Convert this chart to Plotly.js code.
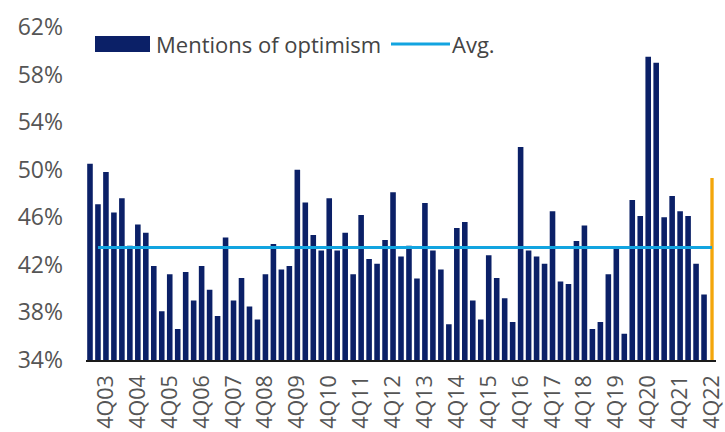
<!DOCTYPE html>
<html>
<head>
<meta charset="utf-8">
<script src="https://cdn.plot.ly/plotly-3.0.1.min.js"></script>
<style>
html,body{margin:0;padding:0;background:#fff;}
#chart{width:725px;height:432px;}
</style>
</head>
<body>
<div id="chart"></div>
<script>
// Quarters 2Q03 .. 4Q22
const quarters = [
  "2Q03","3Q03","4Q03",
  "1Q04","2Q04","3Q04","4Q04",
  "1Q05","2Q05","3Q05","4Q05",
  "1Q06","2Q06","3Q06","4Q06",
  "1Q07","2Q07","3Q07","4Q07",
  "1Q08","2Q08","3Q08","4Q08",
  "1Q09","2Q09","3Q09","4Q09",
  "1Q10","2Q10","3Q10","4Q10",
  "1Q11","2Q11","3Q11","4Q11",
  "1Q12","2Q12","3Q12","4Q12",
  "1Q13","2Q13","3Q13","4Q13",
  "1Q14","2Q14","3Q14","4Q14",
  "1Q15","2Q15","3Q15","4Q15",
  "1Q16","2Q16","3Q16","4Q16",
  "1Q17","2Q17","3Q17","4Q17",
  "1Q18","2Q18","3Q18","4Q18",
  "1Q19","2Q19","3Q19","4Q19",
  "1Q20","2Q20","3Q20","4Q20",
  "1Q21","2Q21","3Q21","4Q21",
  "1Q22","2Q22","3Q22","4Q22"
];
// Mentions of optimism (%)
const optimism = [
  50.5,47.1,49.8,
  46.4,47.6,43.6,45.4,
  44.7,41.9,38.1,41.2,
  36.6,41.4,39.0,41.9,
  39.9,37.7,44.3,39.0,
  40.9,38.5,37.4,41.2,
  43.75,41.6,41.9,50.0,
  47.25,44.5,43.2,47.6,
  43.2,44.7,41.2,46.2,
  42.5,42.1,44.1,48.1,
  42.7,43.6,40.85,47.2,
  43.2,41.6,37.0,45.1,
  45.6,39.0,37.4,42.8,
  40.9,39.2,37.2,51.9,
  43.2,42.7,42.1,46.5,
  40.6,40.4,44.0,45.3,
  36.6,37.2,41.2,43.5,
  36.2,47.45,46.1,59.5,
  59.0,46.0,47.8,46.5,
  46.1,42.1,39.5,49.3
];
const avgValue = 43.45;
const avgSpan = ["3Q03","4Q22"];
const tickLabels = ["4Q03","4Q04","4Q05","4Q06","4Q07","4Q08","4Q09","4Q10","4Q11","4Q12",
                    "4Q13","4Q14","4Q15","4Q16","4Q17","4Q18","4Q19","4Q20","4Q21","4Q22"];
const yTicks = [34,38,42,46,50,54,58,62];

const NAVY = "#0b2067";
const ORANGE = "#f3a60b";
const BLUE = "#12a4e0";

const barColors = optimism.map((v,i)=> i===optimism.length-1 ? ORANGE : NAVY);
const barWidths = optimism.map((v,i)=> i===optimism.length-1 ? 0.42 : 0.7);

const traces = [
  {
    type: "bar",
    x: quarters,
    y: optimism,
    width: barWidths,
    marker: {color: barColors, line: {width: 0}},
    hoverinfo: "x+y",
    showlegend: false
  },
  {
    type: "scatter",
    mode: "lines",
    x: avgSpan,
    y: [avgValue, avgValue],
    line: {color: BLUE, width: 3},
    showlegend: false
  }
];

const FONT = "Open Sans, Noto Sans, sans-serif";
const TXT = "#444444";
const PW = 630, PH = 333;
const px = v => (v - 86) / PW;
const py = v => (360 - v) / PH;

const layout = {
  width: 725,
  height: 432,
  margin: {l: 86, r: 9, t: 27, b: 72},
  paper_bgcolor: "#ffffff",
  plot_bgcolor: "#ffffff",
  font: {family: FONT, color: TXT},
  showlegend: false,
  bargap: 0.3,
  xaxis: {
    type: "category",
    categoryorder: "array",
    categoryarray: quarters,
    range: [-0.5, quarters.length - 0.5],
    tickmode: "array",
    tickvals: tickLabels,
    ticktext: tickLabels,
    tickangle: -90,
    tickfont: {size: 21.5, color: "#555555", family: FONT},
    ticks: "",
    showgrid: false,
    zeroline: false,
    showline: true,
    linecolor: "#1a1a1a",
    linewidth: 1.5,
    ticklabelstandoff: 5,
    fixedrange: true
  },
  yaxis: {
    range: [34, 62],
    tickmode: "array",
    tickvals: yTicks,
    ticktext: yTicks.map(v => v + "%"),
    tickfont: {size: 23, color: "#555555", family: FONT},
    ticks: "",
    showgrid: false,
    zeroline: false,
    showline: false,
    ticklabelstandoff: 22,
    fixedrange: true
  },
  shapes: [
    {type: "rect", xref: "paper", yref: "paper",
     x0: px(95), x1: px(150), y0: py(52), y1: py(36),
     fillcolor: NAVY, line: {width: 0}},
    {type: "line", xref: "paper", yref: "paper",
     x0: px(391), x1: px(450), y0: py(44), y1: py(44),
     line: {color: BLUE, width: 3}}
  ],
  annotations: [
    {xref: "paper", yref: "paper", x: px(154), y: py(44), xanchor: "left", yanchor: "middle",
     text: "Mentions of optimism", showarrow: false, font: {size: 22, color: TXT, family: FONT}},
    {xref: "paper", yref: "paper", x: px(450), y: py(44), xanchor: "left", yanchor: "middle",
     text: "Avg.", showarrow: false, font: {size: 22, color: TXT, family: FONT}}
  ]
};

Plotly.newPlot("chart", traces, layout, {displayModeBar: false, staticPlot: true});
</script>
</body>
</html>
